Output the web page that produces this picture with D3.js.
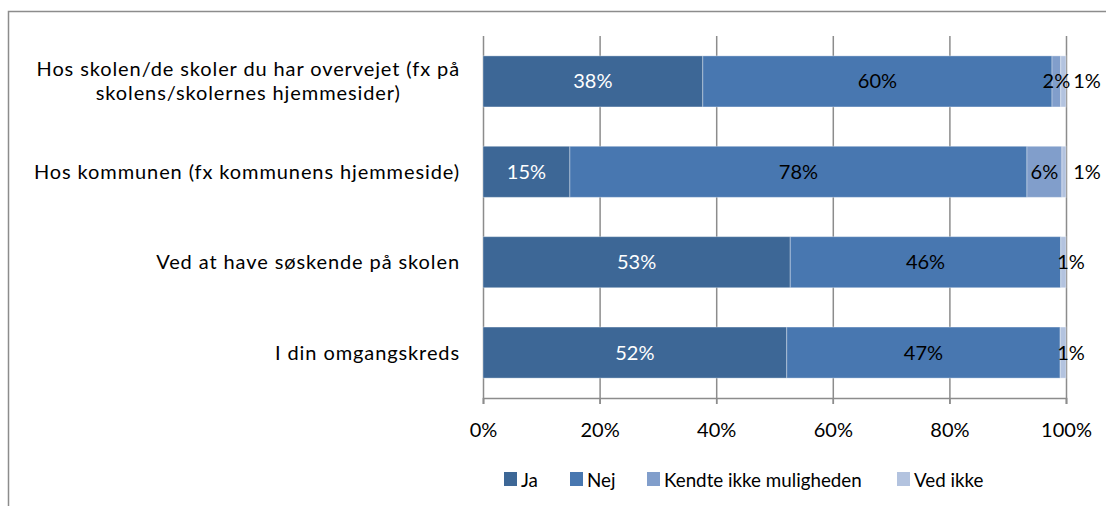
<!DOCTYPE html>
<html>
<head>
<meta charset="utf-8">
<script src="https://cdn.jsdelivr.net/npm/d3@7"></script>
<style>
  body { margin: 0; background: #fff; }
  text { font-family: Lato, "Open Sans", sans-serif; fill: #000; }
</style>
</head>
<body>
<script>
// stacked horizontal bar chart, percent shares per question

var categories = [
  ["Hos skolen/de skoler du har overvejet (fx på", "skolens/skolernes hjemmesider)"],
  ["Hos kommunen (fx kommunens hjemmeside)"],
  ["Ved at have søskende på skolen"],
  ["I din omgangskreds"]
];
var seriesNames = ["Ja", "Nej", "Kendte ikke muligheden", "Ved ikke"];
var ja      = [37.7, 14.9, 52.7, 52.1];
var nej     = [59.9, 78.4, 46.4, 46.9];
var kendte  = [1.5, 6.0, 0, 0];
var vedIkke = [0.9, 0.7, 0.9, 1.0];
var tickValues = [0, 20, 40, 60, 80, 100];
var colors = ["#3d6796", "#4877b0", "#819ecb", "#b3c3df"];
var labelColors = ["#fff", "#000", "#000", "#000"];

var width = 1106, height = 506;
var margin = { top: 36, left: 483 };

var svg = d3.select("body").append("svg")
    .attr("width", width)
    .attr("height", height);

// outer frame (runs off right and bottom like in the original)
svg.append("rect")
   .attr("x", 8.5).attr("y", 11.5)
   .attr("width", 1200).attr("height", 600)
   .attr("fill", "none")
   .attr("stroke", "#8c8c8c")
   .attr("stroke-width", 1.5);

var x = d3.scaleLinear().domain([0, 100]).range([margin.left, 1066]);
var y = d3.scaleBand()
    .domain(d3.range(categories.length))
    .range([margin.top, 398])
    .paddingInner(0.435)
    .paddingOuter(0.22);

// gridlines
svg.append("g").selectAll("line")
   .data(tickValues)
   .join("line")
   .attr("x1", d => x(d) + 0.5).attr("x2", d => x(d) + 0.5)
   .attr("y1", margin.top).attr("y2", 404)
   .attr("stroke", "#8c8c8c")
   .attr("stroke-width", 1.5);

// x axis
var xAxis = svg.append("g")
   .attr("transform", "translate(0,398)")
   .call(d3.axisBottom(x).tickValues(tickValues).tickSize(6).tickFormat(d => d + "%"));
xAxis.select(".domain").attr("stroke", "#8c8c8c").attr("stroke-width", 1.5);
xAxis.selectAll(".tick line").attr("stroke", "#8c8c8c").attr("stroke-width", 1.5);
xAxis.selectAll(".tick text")
   .attr("y", 25)
   .style("font-size", "20px")
   .style("font-family", "Lato, sans-serif")
   .attr("fill", "#000");

// stack the series
var rows = categories.map(function(c, i) {
  return { i: i, Ja: ja[i], Nej: nej[i], "Kendte ikke muligheden": kendte[i], "Ved ikke": vedIkke[i] };
});
var stacked = d3.stack().keys(seriesNames)(rows);

var layers = svg.append("g").selectAll("g")
   .data(stacked)
   .join("g")
   .attr("fill", (d, k) => colors[k]);

layers.selectAll("rect")
   .data(d => d.filter(s => s[1] - s[0] > 0))
   .join("rect")
   .attr("x", d => x(d[0]))
   .attr("y", d => y(d.data.i))
   .attr("width", d => x(d[1]) - x(d[0]))
   .attr("height", y.bandwidth())
   .attr("stroke", "rgba(255,255,255,0.35)")
   .attr("stroke-width", 1);

// data labels
stacked.forEach(function(layer, k) {
  svg.append("g").selectAll("text")
     .data(layer.filter(s => s[1] - s[0] > 0))
     .join("text")
     .attr("x", function(d) {
       var cx = (x(d[0]) + x(d[1])) / 2;
       if (k === 3) {
         // last small segment: label pushed outside the bar
         cx = d.data["Kendte ikke muligheden"] > 0 ? x(100) + 21 : x(100) + 5;
       }
       return cx;
     })
     .attr("y", d => y(d.data.i) + y.bandwidth() / 2)
     .attr("dy", "0.35em")
     .attr("text-anchor", "middle")
     .style("font-size", "20px")
     .style("fill", labelColors[k])
     .text(d => Math.round(d[1] - d[0]) + "%");
});

// category labels, block right-aligned, lines centred
categories.forEach(function(lines, i) {
  var g = svg.append("g");
  var lh = 24;
  var cy = y(i) + y.bandwidth() / 2;
  var texts = lines.map(function(line, j) {
    return g.append("text")
      .attr("y", cy + (j - (lines.length - 1) / 2) * lh)
      .attr("dy", "0.35em")
      .attr("text-anchor", "middle")
      .style("font-size", "20px")
      .style("letter-spacing", "0.9px")
      .text(line);
  });
  var maxW = d3.max(texts, t => t.node().getComputedTextLength());
  texts.forEach(t => t.attr("x", 460 - maxW / 2));
});

// legend
var legendX = [504, 570, 647, 897];
var legend = svg.append("g").selectAll("g")
   .data(seriesNames)
   .join("g")
   .attr("transform", (d, k) => "translate(" + legendX[k] + ",472)");
legend.append("rect")
   .attr("width", 13).attr("height", 14)
   .attr("fill", (d, k) => colors[k]);
legend.append("text")
   .attr("x", 17).attr("y", 8)
   .attr("dy", "0.35em")
   .style("font-size", "18.8px")
   .text(d => d);
</script>
</body>
</html>
